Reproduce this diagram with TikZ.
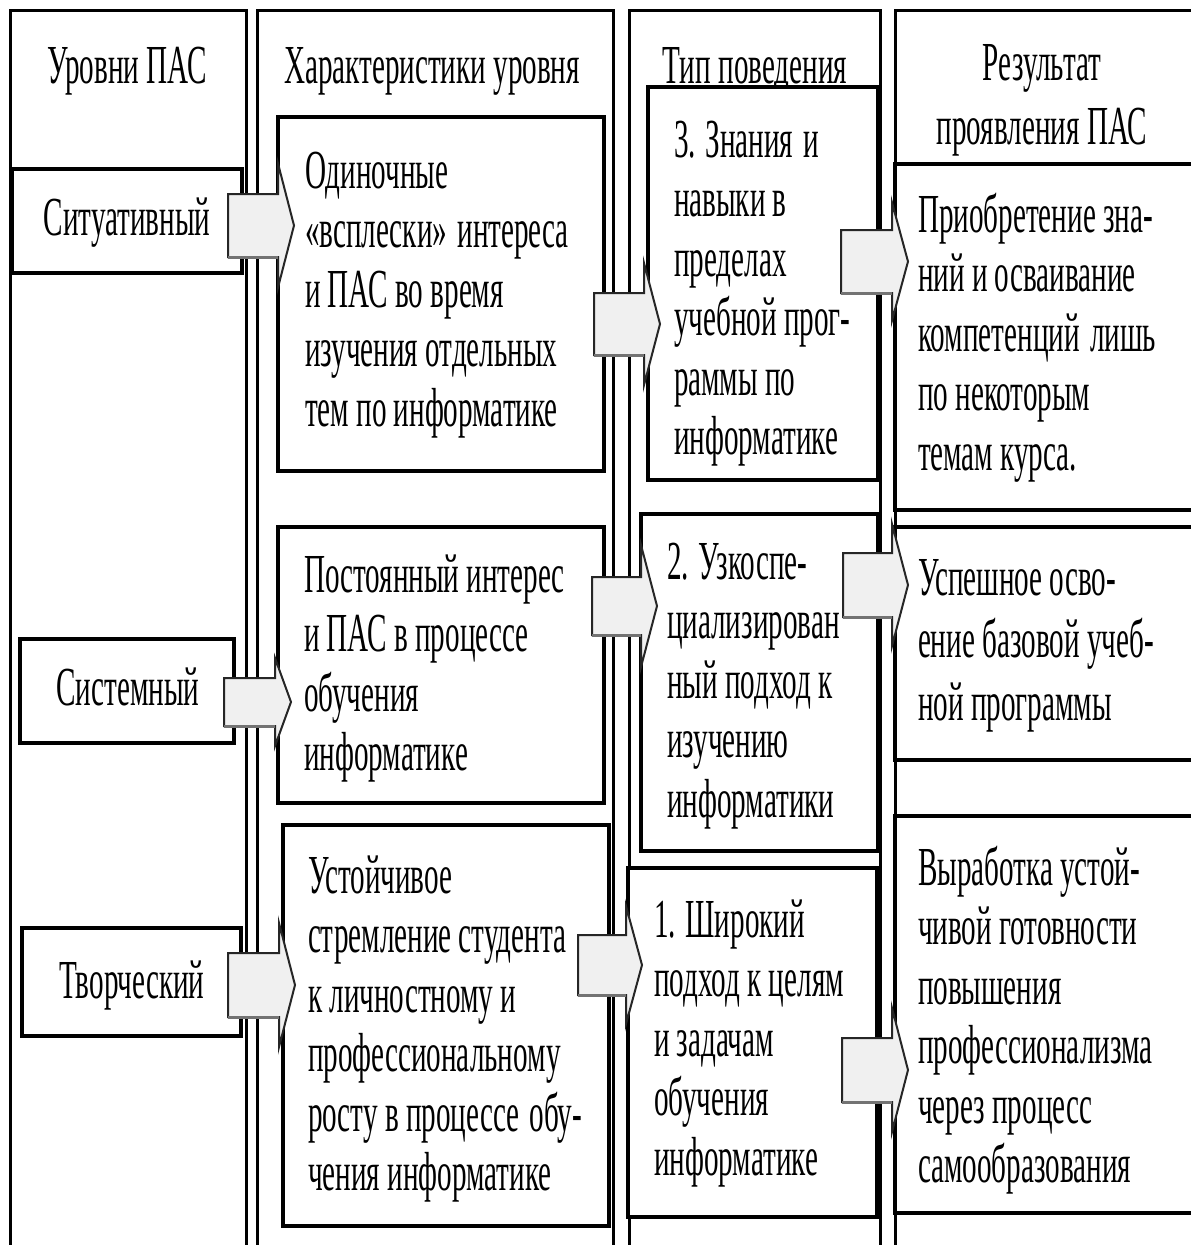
\documentclass[tikz,border=0pt]{standalone}
\usepackage{fontspec}
\setmainfont{Liberation Serif}[FakeStretch=0.53]
\usetikzlibrary{calc}
\newcommand\pasfont{\fontsize{55}{59.5}\selectfont}

% block arrow: #1 shaft start, #2 shaft end (head base), #3 half shaft, #4 half head
\newcommand\blockarrow[4]{%
  \draw[arrowbody] ($(#1)+(0,-#3)$) -- ($(#2)+(0,-#3)$) -- ($(#2)+(0,-#4)$)
    -- ($(#2)+(16,0)$) -- ($(#2)+(0,#4)$) -- ($(#2)+(0,#3)$)
    -- ($(#1)+(0,#3)$) -- cycle;
  \draw[line width=3pt, black!55] ($(#1)+(0,#3)$) -- ($(#2)+(0,#3)$);
}

\begin{document}
\begin{tikzpicture}[x=1pt,y=-1pt,
  colline/.style={line width=3pt, black},
  cell/.style={draw=black, line width=4pt, fill=white, rectangle,
    anchor=north west, inner sep=0pt, outer sep=0pt},
  rescell/.style={cell, line width=3.5pt},
  lbl/.style={inner sep=0pt, outer sep=0pt, font=\pasfont, text=black},
  txt/.style={lbl, anchor=north west, align=left},
  hdr/.style={lbl, anchor=north, align=center},
  arrowbody/.style={fill={rgb,255:red,240;green,240;blue,240},
    draw=black!85, line width=2pt, line join=miter},
]
\useasboundingbox (0,0) rectangle (1191,1245);

% column frames, open at the bottom
\draw[colline] (10,1260) |- (246,10) -- (246,1260);
\draw[colline] (257,1260) |- (613,10) -- (613,1260);
\draw[colline] (629,1260) |- (880,10) -- (880,1260);
\draw[colline] (895,1260) |- (1210,10);

% column headings
\node[hdr] (h1) at (127,41.4) {\strut Уровни ПАС};
\node[hdr] (h2) at (432,41.4) {\strut Характеристики уровня};
\node[hdr] (h3) at (755,41.4) {\strut Тип поведения};
\node[hdr] (h4) at (1042,38.4) {\strut Результат\\[5pt]проявления ПАС};

% level boxes
\node[cell, minimum width=230, minimum height=104] (s1) at (12,169) {};
\node[cell, minimum width=214, minimum height=104] (s2) at (20,639) {};
\node[cell, minimum width=219, minimum height=108] (s3) at (22,928) {};

% characteristic boxes
\node[cell, minimum width=326, minimum height=354] (b1) at (278,117) {};
\node[cell, minimum width=326, minimum height=276] (b2) at (278,527) {};
\node[cell, minimum width=326, minimum height=401] (b3) at (283,825) {};

% behaviour boxes
\node[cell, minimum width=230, minimum height=393] (c3) at (648,87) {};
\node[cell, minimum width=237, minimum height=337] (c2) at (641,514) {};
\node[cell, minimum width=249, minimum height=349] (c1) at (628,868) {};

% result cells
\node[rescell, minimum width=320, minimum height=346] (r3) at (895,164) {};
\node[rescell, minimum width=320, minimum height=233] (r2) at (895,527) {};
\node[rescell, minimum width=320, minimum height=397] (r1) at (895,816) {};

% arrows
\coordinate (a1s) at ($(s1.east)+(-14,4.5)$);
\coordinate (a1e) at (b1.west |- a1s);
\blockarrow{a1s}{a1e}{31.5}{62}

\coordinate (a2s) at ($(b1.east)+(-10,30)$);
\coordinate (a2e) at ($(c3.west |- a2s)+(-4,0)$);
\blockarrow{a2s}{a2e}{31}{61}

\coordinate (a3s) at ($(c3.east)+(-37,-22)$);
\coordinate (a3e) at ($(r3.west |- a3s)+(-3,0)$);
\blockarrow{a3s}{a3e}{31.5}{59}

\coordinate (a4s) at ($(s2.east)+(-10,11)$);
\coordinate (a4e) at ($(b2.west |- a4s)+(-3,0)$);
\blockarrow{a4s}{a4e}{24}{44}

\coordinate (a5s) at ($(s3.east)+(-13,3)$);
\coordinate (a5e) at ($(b3.west |- a5s)+(-4,0)$);
\blockarrow{a5s}{a5e}{32}{62}

\coordinate (a6s) at ($(b2.east)+(-12,-59)$);
\coordinate (a6e) at (c2.west |- a6s);
\blockarrow{a6s}{a6e}{29}{61}

\coordinate (a7s) at ($(c2.east)+(-35,-97.5)$);
\coordinate (a7e) at ($(r2.west |- a7s)+(-3,0)$);
\blockarrow{a7s}{a7e}{32}{61}

\coordinate (a8s) at ($(b3.east)+(-31,-60.5)$);
\coordinate (a8e) at ($(c1.west |- a8s)+(-2,0)$);
\blockarrow{a8s}{a8e}{30}{59}

\coordinate (a9s) at ($(c1.east)+(-35,27.5)$);
\coordinate (a9e) at ($(r1.west |- a9s)+(-3,0)$);
\blockarrow{a9s}{a9e}{32}{62}

% level names
\node[lbl, anchor=base] (t1) at (127,235) {Ситуативный};
\node[lbl, anchor=base] (t2) at (128,705) {Системный};
\node[lbl, anchor=base] (t3) at (132,998) {Творческий};

% characteristics
\node[txt] (tb1) at (305,146.4) {\strut Одиночные\\
  «всплески»\hspace{3pt} интереса\\
  и ПАС во время\\
  изучения отдельных\\
  тем по информатике};
\node[txt] (tb2) at (304,550.4) {\strut Постоянный интерес\\
  и ПАС в процессе\\
  обучения\\
  информатике};
\node[txt] (tb3) at (308,851.4) {\strut Устойчивое\\
  стремление студента\\
  к личностному и\\
  профессиональному\\
  росту в процессе\hspace{3pt} обу-\\
  чения информатике};

% behaviour types
\node[txt] (tc3) at (674,115.4) {\strut 3. Знания\hspace{3pt} и\\
  навыки в\\
  пределах\\
  учебной прог-\\
  раммы по\\
  информатике};
\node[txt] (tc2) at (667,537.4) {\strut 2. Узкоспе-\\
  циализирован\\
  ный подход к\\
  изучению\\
  информатики};
\node[txt] (tc1) at (654,895.4) {\strut 1. Широкий\\
  подход к целям\\
  и задачам\\
  обучения\\
  информатике};

% results
\node[txt] (tr3) at (918,190.4) {\strut Приобретение зна-\\
  ний и осваивание\\
  компетенций\hspace{3pt} лишь\\
  по некоторым\\
  темам курса.};
\node[txt] (tr2) at (918,553.4) {\strut Успешное осво-\\[3pt]
  ение базовой учеб-\\[3pt]
  ной программы};
\node[txt] (tr1) at (918,843.4) {\strut Выработка устой-\\
  чивой готовности\\
  повышения\\
  профессионализма\\
  через процесс\\
  самообразования};
\end{tikzpicture}
\end{document}
